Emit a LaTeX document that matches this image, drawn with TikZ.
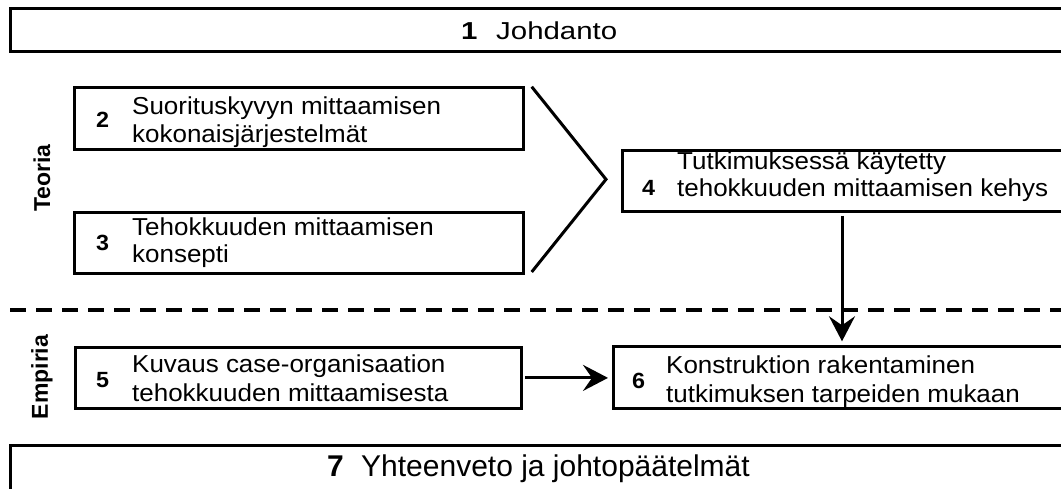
\documentclass[tikz,border=0pt]{standalone}
\usepackage{fontspec}
\setmainfont[FakeStretch=1.06]{Liberation Sans}
\newfontfamily\headfont[FakeStretch=1.2]{Liberation Sans}
\newfontfamily\plainfont{Liberation Sans}
\usetikzlibrary{arrows.meta}
\begin{document}
\begin{tikzpicture}[x=1pt,y=-1pt,
  box/.style={draw, line width=3pt, inner sep=0pt, outer sep=0pt, anchor=north west},
  num/.style={font=\fontsize{22}{24}\selectfont\bfseries, anchor=base west, inner sep=0pt},
  txt/.style={font=\fontsize{24.5}{28}\selectfont, anchor=base west, inner sep=0pt},
  side/.style={font=\plainfont\fontsize{23}{26}\selectfont\bfseries, rotate=90, inner sep=0pt},
  arr/.style={line width=3pt, -{Stealth[length=25pt,width=26pt,inset=9pt]}, shorten <=4pt, shorten >=5pt},
  chev/.style={line width=3pt, line join=miter},
  divider/.style={line width=4pt, dash pattern=on 16pt off 10pt},
]
\useasboundingbox[fill=white] (0,0) rectangle (1061,489);

% boxes
\node[box, minimum width=1056pt, minimum height=43pt] (b1) at (10,8.5) {};
\node[box, minimum width=448.5pt, minimum height=61.5pt] (b2) at (74.5,88) {};
\node[box, minimum width=448.5pt, minimum height=61pt] (b3) at (74.5,213) {};
\node[box, minimum width=444pt, minimum height=61.3pt] (b4) at (622,150.7) {};
\node[box, minimum width=446pt, minimum height=61.2pt] (b5) at (75.3,347.3) {};
\node[box, minimum width=453pt, minimum height=62.4pt] (b6) at (613,346.3) {};
\node[box, minimum width=1056pt, minimum height=50pt] (b7) at (10,445.7) {};

% box 1
\node[anchor=base west, inner sep=0pt, font=\headfont\fontsize{24.5}{28}\selectfont\bfseries] (n1) at (461,39.5) {1};
\node[anchor=base west, inner sep=0pt, font=\headfont\fontsize{24.5}{28}\selectfont] (t1) at (496,39.5) {Johdanto};

% box 2
\node[num] (n2) at (96,128) {2};
\node[txt] (t2a) at (132,115) {Suorituskyvyn mittaamisen};
\node[txt] (t2b) at (132,143) {kokonaisjärjestelmät};

% box 3
\node[num] (n3) at (96,251) {3};
\node[txt] (t3a) at (132,236) {Tehokkuuden mittaamisen};
\node[txt] (t3b) at (132,263) {konsepti};

% box 4
\node[num] (n4) at (642,196) {4};
\node[txt] (t4a) at (677,169.5) {Tutkimuksessä käytetty};
\node[txt] (t4b) at (677,197) {tehokkuuden mittaamisen kehys};

% box 5
\node[num] (n5) at (96,387) {5};
\node[txt] (t5a) at (132,372) {Kuvaus case-organisaation};
\node[txt] (t5b) at (132,401) {tehokkuuden mittaamisesta};

% box 6
\node[num] (n6) at (632,388) {6};
\node[txt] (t6a) at (666,373) {Konstruktion rakentaminen};
\node[txt] (t6b) at (666,402) {tutkimuksen tarpeiden mukaan};

% box 7
\node[anchor=base west, inner sep=0pt, font=\plainfont\fontsize{30}{34}\selectfont\bfseries] (n7) at (327,476) {7};
\node[anchor=base west, inner sep=0pt, font=\plainfont\fontsize{30}{34}\selectfont] (t7) at (361,476) {Yhteenveto ja johtopäätelmät};

% side labels
\node[side] (teoria) at (42,178) {Teoria};
\node[side] (empiria) at (42,377) {Empiria};

% chevron
\coordinate (c1) at (531.7,86.7);
\coordinate (c2) at (606,179.3);
\coordinate (c3) at (531.7,272);
\draw[chev] (c1) -- (c2) -- (c3);

% divider
\coordinate (d1) at (10,310);
\coordinate (d2) at (1075,310);
\draw[divider] (d1) -- (d2);

% arrows
\coordinate (ax) at (842,0);
\draw[arr] (b4.south -| ax) -- (b6.north -| ax);
\draw[arr] (b5.east) -- (b5.east -| b6.west);
\end{tikzpicture}
\end{document}
